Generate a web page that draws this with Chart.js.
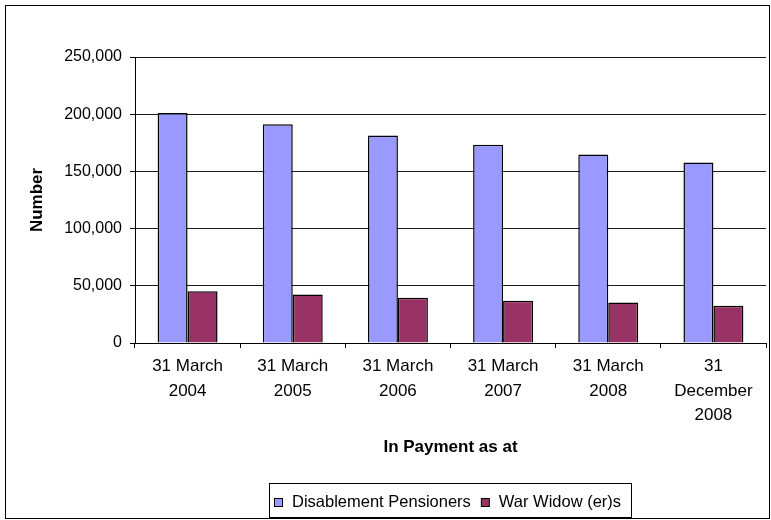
<!DOCTYPE html>
<html>
<head>
<meta charset="utf-8">
<script src="https://cdn.jsdelivr.net/npm/chart.js@4"></script>
<style>
html,body{margin:0;padding:0;background:#fff;}
canvas{display:block;}
</style>
</head>
<body>
<canvas id="c" width="771" height="520"></canvas>
<script>
const categories = [
  ['31 March', '2004'],
  ['31 March', '2005'],
  ['31 March', '2006'],
  ['31 March', '2007'],
  ['31 March', '2008'],
  ['31', 'December', '2008']
];
const disablementPensioners = [201100, 191300, 181300, 173200, 164800, 157800];
const warWidowers = [45300, 42500, 39600, 37000, 35500, 32600];
const seriesNames = ['Disablement Pensioners', 'War Widow (er)s'];
const seriesColors = ['#9999FF', '#993366'];
const yTicks = [0, 50000, 100000, 150000, 200000, 250000];
const xTitle = 'In Payment as at';
const yTitle = 'Number';

const FONT = "'Liberation Sans', Arial, sans-serif";
Chart.defaults.color = '#000';
Chart.defaults.font.family = FONT;

const framePlugin = {
  id: 'frameAndLegend',
  afterDraw(chart) {
    const ctx = chart.ctx;
    ctx.save();
    ctx.strokeStyle = '#000';
    ctx.lineWidth = 1;
    ctx.strokeRect(5.5, 5.5, 764, 513);
    const fontSize = 16.5;
    ctx.font = fontSize + 'px ' + FONT;
    ctx.textBaseline = 'alphabetic';
    const box = 8, gapMarkerText = 10, gapItems = 10, padL = 5, padR = 10;
    const widths = chart.data.datasets.map(d => ctx.measureText(d.label).width);
    let total = padL + padR;
    widths.forEach((w, i) => { total += box + gapMarkerText + w + (i < widths.length - 1 ? gapItems : 0); });
    const cx = (chart.chartArea.left + chart.chartArea.right) / 2;
    const left = Math.round(cx - total / 2);
    const top = 483, bottom = 517;
    ctx.fillStyle = '#fff';
    ctx.fillRect(left + 0.5, top + 0.5, total, bottom - top);
    ctx.strokeStyle = '#000';
    ctx.strokeRect(left + 0.5, top + 0.5, Math.round(total), bottom - top);
    let x = left + padL;
    const baseline = 506.5;
    chart.data.datasets.forEach((d, i) => {
      ctx.fillStyle = d.backgroundColor;
      ctx.fillRect(x + 0.5, 498.5, box, box);
      ctx.strokeStyle = '#000';
      ctx.strokeRect(x + 0.5, 498.5, box, box);
      x += box + gapMarkerText;
      ctx.fillStyle = '#000';
      ctx.fillText(d.label, x, baseline);
      x += widths[i] + gapItems;
    });
    ctx.restore();
  }
};

new Chart(document.getElementById('c'), {
  type: 'bar',
  data: {
    labels: categories,
    datasets: [
      { label: seriesNames[0], data: disablementPensioners, backgroundColor: seriesColors[0], borderColor: '#000', borderWidth: 1.5, categoryPercentage: 0.57, barPercentage: 1.0 },
      { label: seriesNames[1], data: warWidowers, backgroundColor: seriesColors[1], borderColor: '#000', borderWidth: 1.5, categoryPercentage: 0.57, barPercentage: 1.0 }
    ]
  },
  options: {
    responsive: false,
    devicePixelRatio: 1,
    animation: false,
    layout: { padding: { left: 0, top: 57, right: 5, bottom: 40 } },
    plugins: {
      legend: { display: false },
      tooltip: { enabled: false },
      title: { display: false }
    },
    scales: {
      x: {
        afterFit(scale) { scale.height = 137; },
        grid: { display: true, offset: true, drawOnChartArea: false, drawTicks: true, tickLength: 5, tickColor: '#000', color: '#000' },
        border: { display: true, color: '#000', width: 1 },
        ticks: {
          autoSkip: false, maxRotation: 0, minRotation: 0, padding: 6,
          color: '#000',
          font: { size: 17, family: FONT, lineHeight: 1.45 }
        },
        title: {
          display: true, text: xTitle, color: '#000',
          font: { size: 17, weight: 'bold', family: FONT, lineHeight: 1.2 },
          padding: { top: 0, bottom: 22 }
        }
      },
      y: {
        min: 0, max: 250000,
        afterFit(scale) { scale.width = 135; },
        afterBuildTicks(scale) { scale.ticks = yTicks.map(v => ({ value: v })); },
        grid: { display: true, color: '#1a1a1a', lineWidth: 1, drawTicks: true, tickLength: 5, tickColor: '#000' },
        border: { display: true, color: '#000', width: 1 },
        ticks: {
          padding: 8, color: '#000',
          font: { size: 16, family: FONT },
          callback: v => Number(v).toLocaleString('en-US')
        },
        title: {
          display: true, text: yTitle, color: '#000',
          font: { size: 17, weight: 'bold', family: FONT, lineHeight: 1.2 },
          padding: { top: 27, bottom: 0 }
        }
      }
    }
  },
  plugins: [framePlugin]
});
</script>
</body>
</html>
